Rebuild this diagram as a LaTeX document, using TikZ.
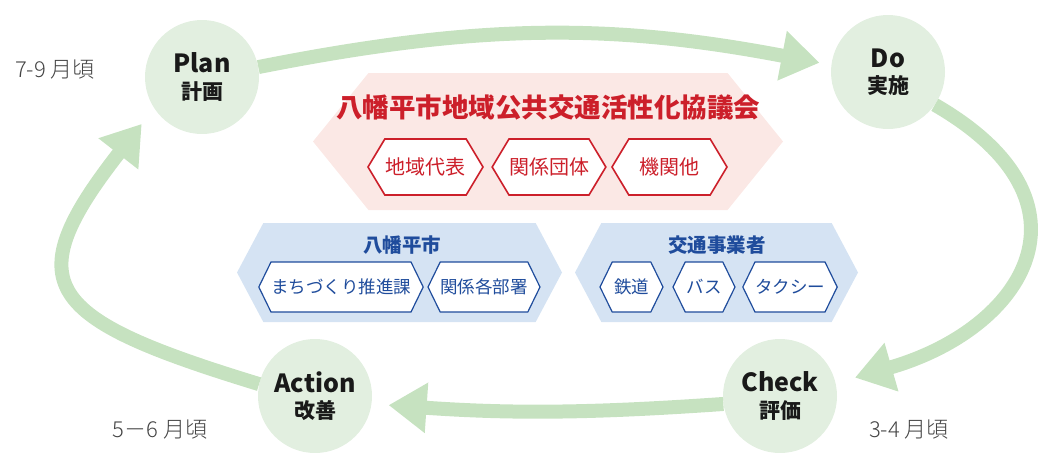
\documentclass[tikz,border=0pt]{standalone}
\usepackage{fontspec}
\setmainfont{Noto Sans CJK JP}
\IfFontExistsTF{Noto Sans CJK JP Light}
  {\newfontfamily\monthfont{Noto Sans CJK JP Light}}
  {\newfontfamily\monthfont{Noto Sans CJK JP}}
\usetikzlibrary{shapes.symbols, arrows.meta, positioning}

\definecolor{cyclegreen}{HTML}{C6E2C0}
\definecolor{phasefill}{HTML}{E2EFE0}
\definecolor{councilpink}{HTML}{FBE8E5}
\definecolor{councilred}{HTML}{CC1F2A}
\definecolor{cityblue}{HTML}{D5E3F3}
\definecolor{citytext}{HTML}{1F4C9C}
\definecolor{monthgray}{HTML}{444444}

\newcommand{\phaselabel}[2]{\fontsize{25}{26}\selectfont #1\\[7pt]\fontsize{21}{26}\selectfont #2}

\begin{document}
\begin{tikzpicture}[
  x=1pt, y=1pt,
  phasenode/.style={circle, fill=phasefill, minimum size=114pt, inner sep=0pt, align=center, text=black!90, font=\bfseries},
  hexbox/.style={signal, signal to=east and west, inner sep=0pt},
  councilbox/.style={hexbox, fill=councilpink, signal pointer angle=102},
  memberbox/.style={hexbox, draw=councilred, line width=1.6pt, fill=white, text=councilred, signal pointer angle=118, minimum height=56pt, font=\fontsize{20}{24}\selectfont},
  groupbox/.style={hexbox, fill=cityblue, signal pointer angle=124, minimum height=99pt},
  unitbox/.style={hexbox, draw=citytext, line width=1.2pt, fill=white, text=citytext, signal pointer angle=128, minimum height=50pt, font=\fontsize{17.5}{20}\selectfont},
  cyclearrow/.style={-{Triangle[length=38pt, width=48pt]}, line width=14pt, draw=cyclegreen},
  monthlabel/.style={text=monthgray, font=\monthfont\fontsize{22}{24}\selectfont}
]
\useasboundingbox (0,0) rectangle (1038,-456);

% Council
\node[councilbox, minimum width=470pt, minimum height=137pt] (council) at (548,-141.5) {};
\node[text=councilred, font=\fontsize{26.5}{30}\selectfont\bfseries] (counciltitle) at (548,-107) {八幡平市地域公共交通活性化協議会};
\node[memberbox, minimum width=115pt] (local) at (425.5,-167) {地域代表};
\node[memberbox, minimum width=112pt] (assoc) at (549,-167) {関係団体};
\node[memberbox, minimum width=115pt] (agency) at (669.5,-167) {機関他};

% City
\node[groupbox, minimum width=325pt] (city) at (399.5,-272.5) {};
\node[text=citytext, font=\fontsize{19.5}{22}\selectfont\bfseries] (citytitle) at (402,-245) {八幡平市};
\node[unitbox, minimum width=162pt] (planning) at (341,-287) {まちづくり推進課};
\node[unitbox, minimum width=112pt] (depts) at (484,-287) {関係各部署};

% Operators
\node[groupbox, minimum width=283pt] (operators) at (716.5,-272.5) {};
\node[text=citytext, font=\fontsize{19.5}{22}\selectfont\bfseries] (optitle) at (717,-245) {交通事業者};
\node[unitbox, minimum width=63pt] (rail) at (631.5,-287) {鉄道};
\node[unitbox, minimum width=62pt] (bus) at (704,-287) {バス};
\node[unitbox, minimum width=86pt] (taxi) at (790,-287) {タクシー};

% PDCA phases
\node[phasenode] (plan) at (202,-77) {\phaselabel{Plan}{計画}};
\node[phasenode] (do) at (888,-72) {\phaselabel{Do}{実施}};
\node[phasenode] (check) at (780,-396) {\phaselabel{Check}{評価}};
\node[phasenode] (action) at (315,-396) {\phaselabel{Action}{改善}};

% Cycle arrows
\draw[cyclearrow, shorten >=12pt] (plan.10) to[bend left=11] (do.173);
\draw[cyclearrow, shorten >=20pt] (do.-35) to[out=-30, in=16, looseness=1.7] (check.13);
\draw[cyclearrow, shorten >=17pt] (check.188) to[bend left=4] (action.-8);
\draw[cyclearrow, shorten >=20pt] (action.168) to[out=163, in=232, looseness=1.95] (plan.213);

% Months
\node[monthlabel] (planmonth) at (55,-70) {7-9 月頃};
\node[monthlabel] (actionmonth) at (160,-430) {5－6 月頃};
\node[monthlabel] (checkmonth) at (909,-430) {3-4 月頃};

\end{tikzpicture}
\end{document}
